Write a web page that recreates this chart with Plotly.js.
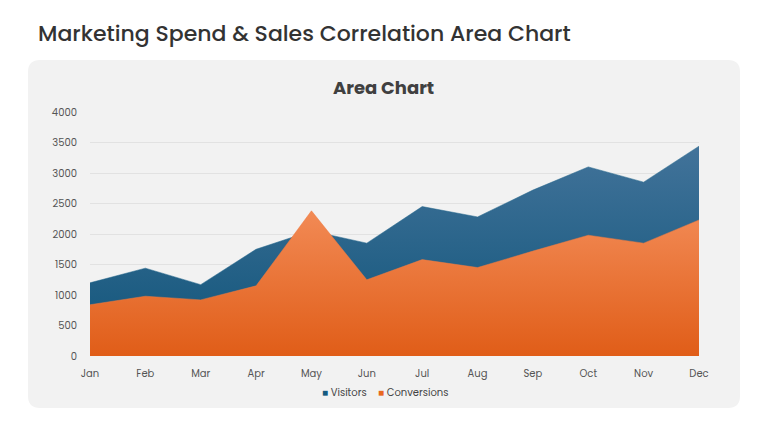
<!DOCTYPE html>
<html>
<head>
<meta charset="utf-8">
<script src="https://cdn.plot.ly/plotly-3.0.1.min.js"></script>
<style>
  html, body { margin: 0; padding: 0; background: #fff; }
  #chart { width: 768px; height: 432px; }
</style>
</head>
<body>
<div id="chart"></div>
<script>
const months = ["Jan", "Feb", "Mar", "Apr", "May", "Jun", "Jul", "Aug", "Sep", "Oct", "Nov", "Dec"]
const visitors = [1200, 1440, 1170, 1750, 2050, 1850, 2450, 2280, 2720, 3100, 2850, 3440]
const conversions = [840, 980, 920, 1150, 2380, 1250, 1580, 1450, 1720, 1980, 1850, 2230]
const seriesNames = ["Visitors", "Conversions"]

const W = 768
const H = 432
const m = { l: 90, r: 69, t: 112, b: 76 }
const pw = W - m.l - m.r
const ph = H - m.t - m.b

// pixel -> paper coords, for the rounded grey panel
function px(x) { return (x - m.l) / pw }
function py(y) { return (H - m.b - y) / ph }

function roundRect(x0, y0, x1, y1, r) {
  return "M " + px(x0 + r) + " " + py(y0) +
    " L " + px(x1 - r) + " " + py(y0) +
    " Q " + px(x1) + " " + py(y0) + " " + px(x1) + " " + py(y0 + r) +
    " L " + px(x1) + " " + py(y1 - r) +
    " Q " + px(x1) + " " + py(y1) + " " + px(x1 - r) + " " + py(y1) +
    " L " + px(x0 + r) + " " + py(y1) +
    " Q " + px(x0) + " " + py(y1) + " " + px(x0) + " " + py(y1 - r) +
    " L " + px(x0) + " " + py(y0 + r) +
    " Q " + px(x0) + " " + py(y0) + " " + px(x0 + r) + " " + py(y0) + " Z"
}

const font = "Poppins, 'Open Sans', sans-serif"
const blue = "#155b80"
const orange = "#e8681f"

const data = [
  {
    x: months,
    y: visitors,
    name: seriesNames[0],
    type: "scatter",
    mode: "lines",
    line: { width: 0.5, color: "#1f6388" },
    fill: "tozeroy",
    fillcolor: "#1b5f85",
    fillgradient: {
      type: "vertical",
      colorscale: [[0, "#0f5479"], [1, "#42739a"]],
    },
  },
  {
    x: months,
    y: conversions,
    name: seriesNames[1],
    type: "scatter",
    mode: "lines",
    line: { width: 0.5, color: "#ee7a40" },
    fill: "tozeroy",
    fillcolor: "#ec6f2c",
    fillgradient: {
      type: "vertical",
      colorscale: [[0, "#e05d18"], [1, "#f28a55"]],
    },
  },
]

// legend drawn as text so the swatches sit tight against the labels
function legendItem(name, color, xPix) {
  return {
    text: '<span style="color:' + color + '">■</span> ' + name,
    xref: "paper",
    yref: "paper",
    x: px(xPix),
    y: py(392),
    xanchor: "left",
    yanchor: "middle",
    showarrow: false,
    font: { family: font, size: 10, color: "#444" },
  }
}

const layout = {
  width: W,
  height: H,
  margin: m,
  paper_bgcolor: "#ffffff",
  plot_bgcolor: "rgba(0,0,0,0)",
  font: { family: font, color: "#555", size: 10 },
  title: {
    text: "Marketing Spend & Sales Correlation Area Chart",
    xref: "container",
    yref: "container",
    x: 38 / W,
    xanchor: "left",
    y: 1 - 33 / H,
    yanchor: "middle",
    font: { family: font, size: 22, weight: 500, color: "#333" },
  },
  xaxis: {
    type: "category",
    range: [0, 11],
    showgrid: false,
    zeroline: false,
    showline: false,
    ticks: "",
    ticklabelstandoff: 10,
    tickfont: { size: 10, color: "#555" },
  },
  yaxis: {
    range: [0, 4000],
    dtick: 500,
    showgrid: true,
    gridcolor: "#e2e2e2",
    gridwidth: 1,
    zeroline: false,
    showline: false,
    ticks: "",
    ticklabelstandoff: 12,
    tickfont: { size: 10, color: "#555" },
  },
  showlegend: false,
  annotations: [
    {
      text: "<b>Area Chart</b>",
      xref: "paper",
      yref: "paper",
      x: px(383),
      y: py(88),
      xanchor: "center",
      yanchor: "middle",
      showarrow: false,
      font: { family: font, size: 18, color: "#404040" },
    },
    legendItem(seriesNames[0], blue, 320),
    legendItem(seriesNames[1], orange, 376),
  ],
  shapes: [
    {
      type: "path",
      xref: "paper",
      yref: "paper",
      path: roundRect(28, 60, 740, 408, 12),
      fillcolor: "#f2f2f2",
      line: { width: 0 },
      layer: "below",
    },
  ],
}

Plotly.newPlot("chart", data, layout, { displayModeBar: false, staticPlot: true })
</script>
</body>
</html>
